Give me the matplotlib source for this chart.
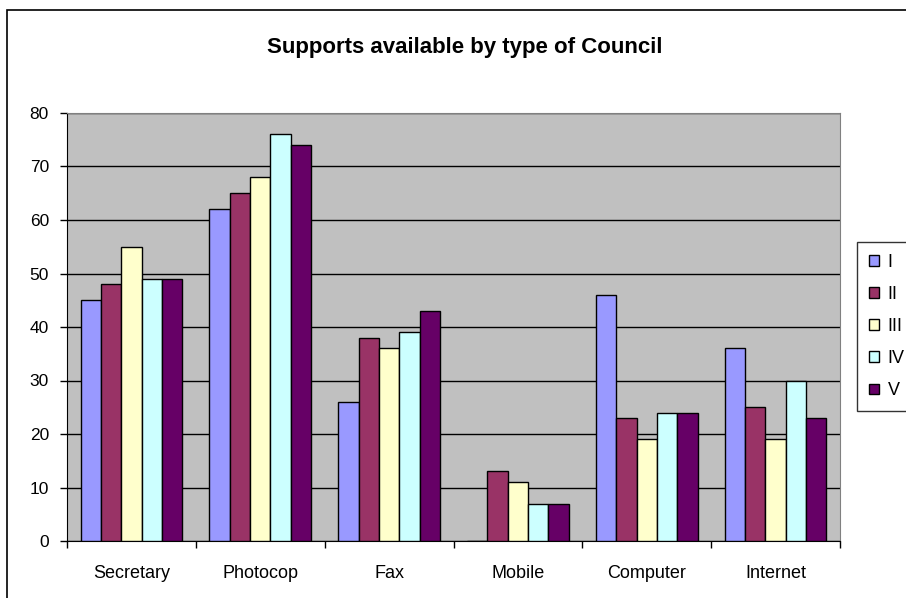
import matplotlib
matplotlib.use("Agg")
import matplotlib.pyplot as plt
import numpy as np
from matplotlib.patches import Rectangle

categories = ["Secretary", "Photocop", "Fax", "Mobile", "Computer", "Internet"]
series_names = ["I", "II", "III", "IV", "V"]
s_I = [45, 62, 26, 0, 46, 36]
s_II = [48, 65, 38, 13, 23, 25]
s_III = [55, 68, 36, 11, 19, 19]
s_IV = [49, 76, 39, 7, 24, 30]
s_V = [49, 74, 43, 7, 24, 23]
series = [s_I, s_II, s_III, s_IV, s_V]
colors = ["#9999FF", "#993366", "#FFFFCC", "#CCFFFF", "#660066"]

plt.rcParams['font.family'] = ['Liberation Sans', 'DejaVu Sans']

W, H = 906, 598
fig = plt.figure(figsize=(W / 100, H / 100), dpi=100)
fig.patch.set_facecolor("white")

# outer chart border
fig.add_artist(Rectangle((7 / W, -0.05), 1.1, (598 - 10) / H + 0.05,
                         transform=fig.transFigure, fill=False,
                         edgecolor="black", linewidth=1.2))

ax = fig.add_axes([67 / W, (H - 541) / H, (840 - 67) / W, (541 - 113) / H])
ax.set_facecolor("#C0C0C0")

n = len(series)
gap = 1.33
bw = 1.0 / (n + gap)
x = np.arange(len(categories))
for i, (vals, c, name) in enumerate(zip(series, colors, series_names)):
    offs = (i - (n - 1) / 2) * bw
    ax.bar(x + offs, vals, width=bw, color=c, edgecolor="black",
           linewidth=1.0, label=name, zorder=3)

ax.set_xlim(-0.5, len(categories) - 0.5)
ax.set_ylim(0, 80)
ax.set_yticks(np.arange(0, 81, 10))
ax.yaxis.grid(True, color="black", linewidth=1.0, zorder=1)
ax.set_axisbelow(True)

ax.set_xticks(x)
ax.set_xticklabels(categories, fontsize=13)
ax.tick_params(axis="x", length=0, pad=17)
ax.set_xticks(np.arange(-0.5, len(categories)), minor=True)
ax.tick_params(axis="x", which="minor", length=5, direction="out", width=1)
ax.tick_params(axis="y", length=5, direction="out", labelsize=12.5, width=1, pad=8)

for s in ["top", "right"]:
    ax.spines[s].set_color("#808080")
for s in ["left", "bottom"]:
    ax.spines[s].set_color("black")

fig.text(465 / W, 1 - 47 / H, "Supports available by type of Council",
         ha="center", va="center", fontsize=16, fontweight="bold")

leg = ax.legend(loc="upper left", bbox_to_anchor=(857 / W, 1 - 242 / H),
                bbox_transform=fig.transFigure, borderaxespad=0, frameon=True,
                fancybox=False, fontsize=13, handlelength=0.55,
                handleheight=0.55, labelspacing=0.84, borderpad=0.65,
                handletextpad=0.5)
leg.get_frame().set_edgecolor("black")
leg.get_frame().set_linewidth(1.0)

fig.savefig("out.png", dpi=100)
